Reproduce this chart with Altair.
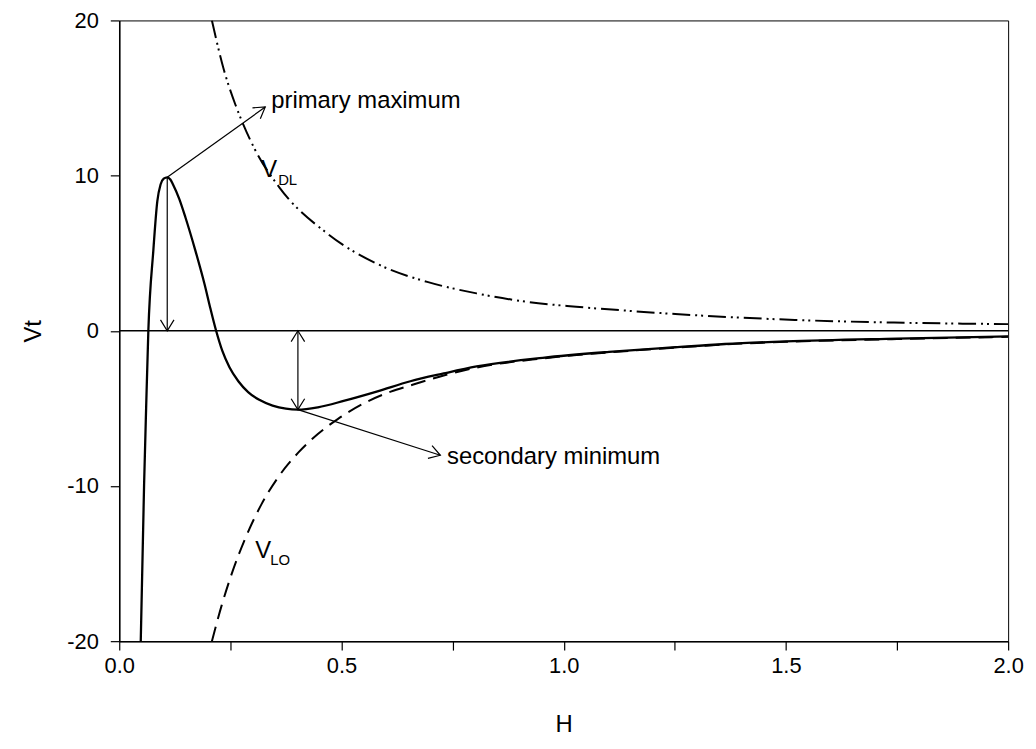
import math
import altair as alt
import pandas as pd

FONT = "Liberation Sans"

# ---- data ----
vt_h = [0.0484, 0.0559, 0.0605, 0.0655, 0.0767, 0.0857, 0.093, 0.100, 0.108, 0.115, 0.121,
        0.135, 0.149, 0.171, 0.192, 0.205, 0.218, 0.232, 0.248, 0.268, 0.290, 0.315, 0.345,
        0.375, 0.402, 0.447, 0.507, 0.581, 0.655, 0.730, 0.804, 0.953, 1.102, 1.251, 1.363,
        1.500, 1.750, 2.000]
vt_v = [-20.0, -9.94, -5.0, 0.0, 5.17, 8.36, 9.43, 9.8, 9.89, 9.75, 9.43,
        8.5, 7.3, 5.2, 3.0, 1.45, 0.0, -1.3, -2.35, -3.25, -3.95, -4.45, -4.82,
        -5.02, -5.08, -4.93, -4.5, -3.9, -3.25, -2.75, -2.3, -1.74, -1.36, -1.06, -0.85,
        -0.68, -0.5, -0.36]

vlo_h = [0.2085, 0.2308, 0.2532, 0.2831, 0.3202, 0.3575, 0.4022, 0.4469, 0.4916, 0.5513,
         0.611, 0.655, 0.730, 0.804, 0.953, 1.102, 1.251, 1.363, 1.500, 1.750, 2.000]
vlo_v = [-20.0, -17.66, -15.65, -13.41, -11.17, -9.44, -7.87, -6.65, -5.69, -4.66,
         -3.92, -3.52, -2.88, -2.37, -1.78, -1.39, -1.09, -0.88, -0.71, -0.53, -0.39]

vdl_h = [0.2085, 0.2346, 0.261, 0.279, 0.305, 0.361, 0.469, 0.588, 0.693, 0.804, 0.916,
         1.028, 1.140, 1.251, 1.520, 1.743, 2.000]
vdl_v = [20.0, 16.9, 14.6, 13.3, 11.7, 9.21, 6.25, 4.21, 3.15, 2.41, 1.87,
         1.55, 1.30, 1.08, 0.70, 0.53, 0.43]

zero_v = [0.0]

x_ticks = [0.0, 0.25, 0.5, 0.75, 1.0, 1.25, 1.5, 1.75, 2.0]
y_ticks = [-20, -10, 0, 10, 20]

# annotation arrows (data coordinates)
arrow_x1 = [0.108, 0.108, 0.402, 0.402]
arrow_y1 = [9.89, 9.89, 0.0, -5.08]
arrow_x2 = [0.3285, 0.108, 0.402, 0.7225]
arrow_y2 = [14.42, 0.0, -5.08, -8.02]
arrow_both = [False, False, True, False]

label_text = ["primary maximum", "secondary minimum", "V", "DL", "V", "LO"]
label_x = [0.342, 0.7374, 0.3196, 0.3575, 0.306, 0.3397]
label_y = [14.36, -8.615, 9.89, 9.38, -14.61, -15.12]
label_size = [24, 24, 24, 15, 24, 15]

# ---- layout ----
PW, PH = 895, 625
kx = PW / 2.0
ky = PH / 40.0

heads = []
for i in range(len(arrow_x1)):
    ends = [(arrow_x2[i], arrow_y2[i], arrow_x1[i], arrow_y1[i])]
    if arrow_both[i]:
        ends.append((arrow_x1[i], arrow_y1[i], arrow_x2[i], arrow_y2[i]))
    for tx, ty, fx, fy in ends:
        dx = (tx - fx) * kx
        dy = -(ty - fy) * ky
        ang = math.degrees(math.atan2(dx, -dy)) % 360
        heads.append({"x": tx, "y": ty, "ang": ang})

xs = alt.Scale(domain=[0, 2], nice=False, zero=False)
ys = alt.Scale(domain=[-20, 20], nice=False, zero=False)

xaxis = alt.Axis(
    title="H", values=x_ticks,
    labelExpr="abs(datum.value*2 - round(datum.value*2)) < 0.001 ? format(datum.value, '.1f') : ''",
    tickSize=9, tickWidth=1.2, tickColor="black", domainColor="black", domainWidth=1.5,
    labelFont=FONT, labelFontSize=22, labelColor="black", labelPadding=6,
    labelOverlap=False, labelFlush=False,
    titleFont=FONT, titleFontSize=24, titleFontWeight="normal", titleColor="black",
    titleX=PW / 2, titleY=84, titleBaseline="middle", grid=False,
)
yaxis = alt.Axis(
    title="Vt", values=y_ticks, labelExpr="datum.value + ''",
    tickSize=9, tickWidth=1.2, tickColor="black", domainColor="black", domainWidth=1.5,
    labelFont=FONT, labelFontSize=22, labelColor="black", labelPadding=12,
    labelOverlap=False, labelFlush=False,
    titleFont=FONT, titleFontSize=24, titleFontWeight="normal", titleColor="black",
    titleX=-86, titleY=PH / 2, titleAlign="center", titleBaseline="middle", titleAngle=-90,
    grid=False,
)

df_vt = pd.DataFrame({"h": vt_h, "v": vt_v})
df_vlo = pd.DataFrame({"h": vlo_h, "v": vlo_v})
df_vdl = pd.DataFrame({"h": vdl_h, "v": vdl_v})
df_zero = pd.DataFrame({"v": zero_v})
df_arrows = pd.DataFrame({"x1": arrow_x1, "y1": arrow_y1, "x2": arrow_x2, "y2": arrow_y2})
df_heads = pd.DataFrame(heads)
df_labels = pd.DataFrame({"t": label_text, "x": label_x, "y": label_y, "fs": label_size})

X = lambda f: alt.X(f, type="quantitative", scale=xs, axis=xaxis)
Y = lambda f: alt.Y(f, type="quantitative", scale=ys, axis=yaxis)

zero_line = alt.Chart(df_zero).mark_rule(color="black", strokeWidth=1.5).encode(y=Y("v"))

vt_line = alt.Chart(df_vt).mark_line(
    color="black", strokeWidth=2.3, interpolate="monotone", clip=True
).encode(x=X("h"), y=Y("v"), order="h:Q")

vlo_line = alt.Chart(df_vlo).mark_line(
    color="black", strokeWidth=2.0, interpolate="monotone", clip=True, strokeDash=[15, 8]
).encode(x=X("h"), y=Y("v"), order="h:Q")

vdl_line = alt.Chart(df_vdl).mark_line(
    color="black", strokeWidth=2.0, interpolate="monotone", clip=True,
    strokeDash=[18, 5, 2, 4, 2, 5]
).encode(x=X("h"), y=Y("v"), order="h:Q")

arrow_lines = alt.Chart(df_arrows).mark_rule(color="black", strokeWidth=1.2).encode(
    x=X("x1"), y=Y("y1"), x2="x2:Q", y2="y2:Q"
)

arrow_heads = alt.Chart(df_heads).mark_point(
    shape="M-0.62,1L0,0L0.62,1", filled=False, color="black", strokeWidth=1.2,
    size=480, opacity=1
).encode(x=X("x"), y=Y("y"), angle=alt.Angle("ang:Q", scale=None))

labels = alt.Chart(df_labels).mark_text(
    align="left", baseline="alphabetic", font=FONT, color="black"
).encode(x=X("x"), y=Y("y"), text="t:N", size=alt.Size("fs:Q", scale=None, legend=None))

chart = alt.layer(
    zero_line, vlo_line, vdl_line, vt_line, arrow_lines, arrow_heads, labels
).properties(
    width=PW, height=PH,
    autosize=alt.AutoSizeParams(type="none"),
    padding={"left": 112, "top": 10, "right": 20, "bottom": 97},
    background="white",
).configure_view(stroke="black", strokeWidth=1)

chart.save("out.html", embed_options={"renderer": "svg", "actions": False})
